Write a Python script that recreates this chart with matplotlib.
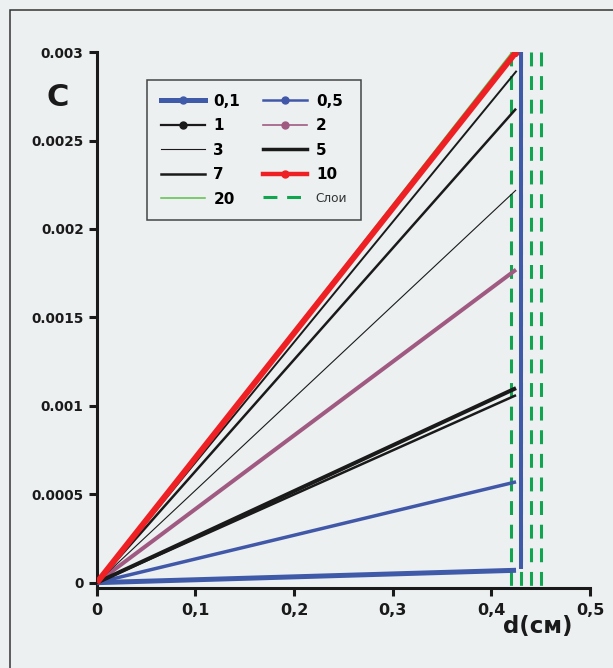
import numpy as np
import matplotlib.pyplot as plt
from matplotlib.lines import Line2D
from matplotlib.patches import Rectangle

plt.rcParams['font.family'] = ['DejaVu Sans']
plt.rcParams['lines.scale_dashes'] = False

# concentration profiles: C grows linearly from the surface to the layer edge
d_end = 0.425
series = ['0,1', '0,5', '1', '2', '3', '5', '7', '10', '20']
c_end = [0.00007, 0.00057, 0.00106, 0.00177, 0.00222, 0.0011, 0.00268, 0.003, 0.003]
d_stop = [d_end, d_end, d_end, d_end, d_end, d_end, d_end, d_end, 0.421]
colors = ['#3f5aa8', '#4158a8', '#1a1a1a', '#a05a82', '#1a1a1a', '#1a1a1a', '#1a1a1a', '#ee2024', '#5cbf4a']
widths = [3.6, 2.5, 1.8, 2.9, 0.8, 2.9, 1.8, 4.3, 1.1]
markers = ['o', 'o', 'o', 'o', None, None, None, 'o', None]

# one more black profile without a legend entry
extra_c = 0.00289

# layer boundaries
layers = [0.42, 0.43, 0.44, 0.45]
blue_edge_x = 0.43
blue_edge_c = [0.00008, 0.003]

xticks = [0, 0.1, 0.2, 0.3, 0.4, 0.5]
xlabels = ['0', '0,1', '0,2', '0,3', '0,4', '0,5']
yticks = [0, 0.0005, 0.001, 0.0015, 0.002, 0.0025, 0.003]
ylabels = ['0', '0.0005', '0.001', '0.0015', '0.002', '0.0025', '0.003']

bg = '#ecf0f1'
fig = plt.figure(figsize=(6.13, 6.68), dpi=100, facecolor=bg)
ax = fig.add_axes([0.158, 0.1198, 0.9625 - 0.158, 0.922 - 0.1198])
ax.set_facecolor(bg)

for x in layers:
    ax.plot([x, x], [0.003, -0.00003], color='#12a550', lw=2.2, dashes=(10, 7), zorder=1)

ax.plot([0, d_end], [0, extra_c], color='#1a1a1a', lw=1.4, zorder=2)
order = [8, 0, 1, 2, 3, 4, 5, 6, 7]
for i in order:
    ax.plot([0, d_stop[i]], [0, c_end[i]], color=colors[i], lw=widths[i],
            solid_capstyle='butt', zorder=3)
# end point of the 10 curve
ax.plot([d_end], [c_end[7]], marker='D', ms=4.5, color=colors[7], zorder=4)
ax.plot([blue_edge_x, blue_edge_x], blue_edge_c, color='#3f5aa8', lw=2.9,
        solid_capstyle='butt', zorder=4)

ax.set_xlim(0, 0.5)
ax.set_ylim(-0.00003, 0.003)
for s in ['top', 'right']:
    ax.spines[s].set_visible(False)
for s in ['left', 'bottom']:
    ax.spines[s].set_linewidth(2.2)
    ax.spines[s].set_color('#1a1a1a')
ax.set_xticks(xticks)
ax.set_xticklabels(xlabels, fontsize=11.5, fontweight='bold', color='#1a1a1a')
ax.set_yticks(yticks)
ax.set_yticklabels(ylabels, fontsize=9.8, fontweight='bold', color='#1a1a1a')
ax.tick_params(axis='both', direction='out', length=5.5, width=2.2, color='#1a1a1a')
ax.tick_params(axis='x', pad=5)
ax.tick_params(axis='y', pad=4)

fig.text(58 / 613, 1 - 97 / 668, 'C', fontsize=22, fontweight='bold',
         ha='center', va='center', color='#1a1a1a')
fig.text(538 / 613, 1 - 627 / 668, 'd(см)', fontsize=16.5, fontweight='bold',
         ha='center', va='center', color='#1a1a1a')

# legend line widths are a little lighter than the plotted curves
leg_widths = [3.6, 1.8, 1.6, 1.2, 0.8, 2.5, 1.8, 3.2, 1.1]
handles = []
for i in range(len(series)):
    handles.append(Line2D([], [], color=colors[i], lw=leg_widths[i], marker=markers[i],
                          ms=5, label=series[i]))
handles.append(Line2D([], [], color='#12a550', lw=2.2, dashes=(10, 7), label='Слои'))
# two columns filled top to bottom
leg_order = [0, 2, 4, 6, 8, 1, 3, 5, 7, 9]
leg = fig.legend([handles[k] for k in leg_order], [handles[k].get_label() for k in leg_order],
                 loc='upper left', bbox_to_anchor=(147 / 613, 1 - 80 / 668),
                 bbox_transform=fig.transFigure, ncol=2, borderaxespad=0,
                 prop={'weight': 'bold', 'size': 11}, numpoints=1,
                 handlelength=2.9, handletextpad=0.55, columnspacing=1.5,
                 labelspacing=0.62, borderpad=0.9, fancybox=False, framealpha=1)
leg.get_frame().set_facecolor(bg)
leg.get_frame().set_edgecolor('#444444')
leg.get_frame().set_linewidth(1.1)
for t in leg.get_texts():
    if t.get_text() == 'Слои':
        t.set_fontweight('normal')
        t.set_fontsize(8.7)
        t.set_color('#333333')

fig.patches.append(Rectangle((9.5 / 613, -0.05), 1.2, 658 / 668 + 0.05,
                             transform=fig.transFigure, fill=False,
                             edgecolor='#333333', lw=1.1))

plt.savefig('out.png', dpi=100, facecolor=bg)
